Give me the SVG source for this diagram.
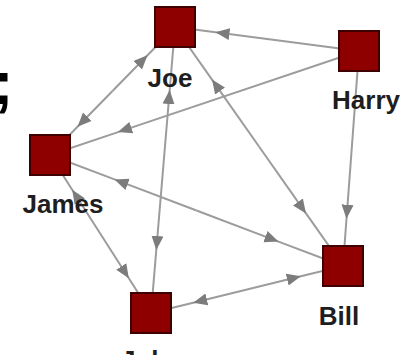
<svg xmlns="http://www.w3.org/2000/svg" width="402" height="355" viewBox="0 0 402 355">
  <style>
    .edge { fill: none; stroke: #9c9c9c; stroke-width: 2; marker-mid: url(#arrow); }
    .node rect { fill: #8e0000; stroke: #3e0000; stroke-width: 2; }
    .label { font-family: "Liberation Sans", Arial, sans-serif; font-weight: bold; font-size: 26px; fill: #1e1e1e; text-anchor: middle; }
  </style>
  <defs>
    <!-- arrowhead placed on the middle vertex of each edge path -->
    <marker id="arrow" markerUnits="userSpaceOnUse" markerWidth="15" markerHeight="13" refX="14" refY="6.5" orient="auto">
      <path d="M0,0.5 L14,6.5 L0,12.5 z" fill="#7c7c7c"/>
    </marker>
  </defs>
  <rect width="402" height="355" fill="#ffffff"/>

  <!-- big punctuation mark at the left edge -->
  <text x="-7" y="104" font-family="'Liberation Sans', Arial, sans-serif" font-weight="bold" font-size="61" fill="#000">;</text>

  <g id="edges">
    <!-- Harry -> Joe -->
    <path class="edge" d="M359,51 L215.5,32.3 L175,27"/>
    <!-- Harry -> James -->
    <path class="edge" d="M359,51 L118,132.1 L50,155"/>
    <!-- James <-> Joe -->
    <path class="edge" d="M112.5,91 L147.5,55.2 L175,27"/>
    <path class="edge" d="M112.5,91 L77.5,126.8 L50,155"/>
    <!-- Joe <-> Bill -->
    <path class="edge" d="M259,146.5 L306,213.4 L343,266"/>
    <path class="edge" d="M259,146.5 L212,79.6 L175,27"/>
    <!-- Harry -> Bill -->
    <path class="edge" d="M359,51 L346.5,218.7 L343,266"/>
    <!-- John <-> Joe -->
    <path class="edge" d="M163,170 L169.7,90 L175,27"/>
    <path class="edge" d="M163,170 L156.3,250 L151,313"/>
    <!-- James <-> John -->
    <path class="edge" d="M100.5,234 L128.8,278.2 L151,313"/>
    <path class="edge" d="M100.5,234 L72.2,189.8 L50,155"/>
    <!-- John <-> Bill -->
    <path class="edge" d="M247,289.5 L193.2,302.7 L151,313"/>
    <path class="edge" d="M247,289.5 L300.8,276.3 L343,266"/>
    <!-- Bill <-> James -->
    <path class="edge" d="M196.5,210.5 L114.5,179.4 L50,155"/>
    <path class="edge" d="M196.5,210.5 L278.5,241.6 L343,266"/>
  </g>

  <g id="joe" class="node">
    <rect x="155" y="7" width="40" height="40"/>
    <text class="label" x="170" y="87">Joe</text>
  </g>
  <g id="harry" class="node">
    <rect x="339" y="31" width="40" height="40"/>
    <text class="label" x="366" y="109">Harry</text>
  </g>
  <g id="james" class="node">
    <rect x="30" y="135" width="40" height="40"/>
    <text class="label" x="63" y="213">James</text>
  </g>
  <g id="john" class="node">
    <rect x="131" y="293" width="40" height="40"/>
    <text class="label" x="152" y="369">John</text>
  </g>
  <g id="bill" class="node">
    <rect x="323" y="246" width="40" height="40"/>
    <text class="label" x="339" y="325">Bill</text>
  </g>
</svg>
